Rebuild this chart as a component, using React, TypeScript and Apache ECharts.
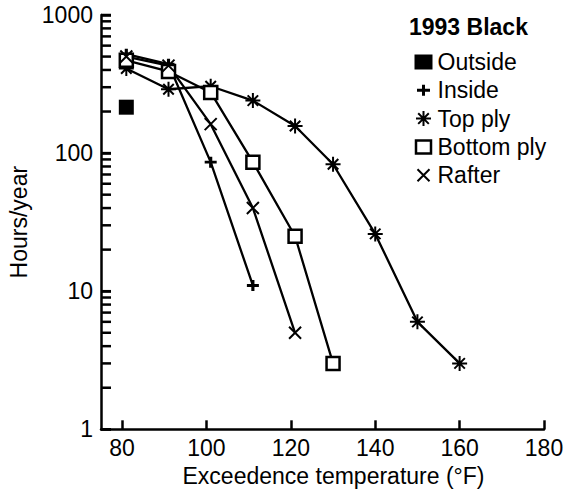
import React, { useEffect, useRef } from "react";
import * as echarts from "echarts";

// ---- data ----
const outsideTemps = [81];
const outsideHours = [215];

const insideTemps = [81, 91, 101, 111];
const insideHours = [520, 440, 86, 11];

const topPlyTemps = [81, 91, 101, 111, 121, 130, 140, 150, 160];
const topPlyHours = [410, 290, 305, 240, 157, 83, 26, 6, 3];

const bottomPlyTemps = [81, 91, 101, 111, 121, 130];
const bottomPlyHours = [470, 390, 275, 86, 25, 3];

const rafterTemps = [81, 91, 101, 111, 121];
const rafterHours = [500, 430, 162, 40, 5];

const xTickValues = [80, 100, 120, 140, 160, 180];
const yTickValues = [
  1, 2, 3, 4, 5, 6, 7, 8, 9,
  10, 20, 30, 40, 50, 60, 70, 80, 90,
  100, 200, 300, 400, 500, 600, 700, 800, 900,
  1000,
];

const legendTitle = "1993 Black";
const seriesNames = ["Outside", "Inside", "Top ply", "Bottom ply", "Rafter"];
const xAxisTitle = "Exceedence temperature (\u00B0F)";
const yAxisTitle = "Hours/year";

const X_MIN = 75;
const X_MAX = 180;

const FONT = "'Liberation Sans', Arial, Helvetica, sans-serif";
const FS = 23;

const plusPath = "path://M0 5H10M5 0V10";
const starPath = "path://M5 0V10M0 5H10M1.5 1.5L8.5 8.5M8.5 1.5L1.5 8.5";
const crossPath = "path://M0 0L10 10M10 0L0 10";

const legendIcons = [
  "path://M0 0M0 1.5H18V16.5H0ZM18 18",
  "path://M0 0M2.5 9H15.5M9 3.5V14.5M18 18",
  "path://M0 0M9 1.5V16.5M1.5 9H16.5M3.7 3.7L14.3 14.3M14.3 3.7L3.7 14.3M18 18",
  "path://M0 0M1.5 2.5H16.5V15.5H1.5ZM18 18",
  "path://M0 0M3 3L15 15M15 3L3 15M18 18",
];

function zip(xs: number[], ys: number[]) {
  return xs.map((x, i) => [x, ys[i]]);
}

export default function App() {
  const ref = useRef<HTMLDivElement>(null);

  useEffect(() => {
    if (!ref.current) return;
    const chart = echarts.init(ref.current, undefined, { renderer: "svg" });

    const lineBase = {
      type: "line" as const,
      lineStyle: { color: "#000", width: 2.3 },
      emphasis: { disabled: true },
      z: 2,
    };

    const tickStyle = { color: "#000", width: 2.5 };

    const option: any = {
      animation: false,
      backgroundColor: "#fff",
      textStyle: { fontFamily: FONT },
      grid: {
        left: 101,
        right: 22,
        top: 15,
        bottom: 66.7,
        containLabel: false,
        outerBoundsMode: "none",
      },
      xAxis: {
        type: "value",
        min: X_MIN,
        max: X_MAX,
        name: xAxisTitle,
        nameLocation: "middle",
        nameGap: 34,
        nameTextStyle: {
          color: "#000",
          fontSize: FS,
          fontFamily: FONT,
          padding: [0, 0, 0, 22],
        },
        axisLine: { show: true, lineStyle: { color: "#000", width: 2.5 } },
        axisTick: {
          show: true,
          inside: true,
          length: 9,
          lineStyle: tickStyle,
          customValues: xTickValues,
        },
        axisLabel: {
          color: "#000",
          fontSize: FS,
          fontFamily: FONT,
          margin: 7,
          customValues: xTickValues,
        },
        splitLine: { show: false },
      },
      yAxis: {
        type: "log",
        logBase: 10,
        min: 1,
        max: 1000,
        position: "left",
        name: yAxisTitle,
        nameLocation: "middle",
        nameGap: 62,
        nameTextStyle: { color: "#000", fontSize: FS, fontFamily: FONT },
        axisLine: { show: true, lineStyle: { color: "#000", width: 2.5 } },
        axisTick: {
          show: true,
          inside: true,
          length: 10,
          lineStyle: tickStyle,
        },
        axisLabel: {
          color: "#000",
          fontSize: FS,
          fontFamily: FONT,
          margin: 8,
          formatter: (v: number) => String(Math.round(v)),
        },
        splitLine: { show: false },
        minorTick: { show: false },
      },
      legend: {
        orient: "vertical",
        left: 413,
        top: 50.5,
        itemWidth: 18,
        itemHeight: 18,
        itemGap: 5.3,
        selectedMode: false,
        padding: 0,
        textStyle: {
          color: "#000",
          fontSize: FS,
          fontFamily: FONT,
        },
        data: [
          {
            name: seriesNames[0],
            icon: legendIcons[0],
            itemStyle: { color: "#000", borderWidth: 0, opacity: 1 },
          },
          {
            name: seriesNames[1],
            icon: legendIcons[1],
            itemStyle: { color: "#000", borderColor: "#000", borderWidth: 3, opacity: 1 },
          },
          {
            name: seriesNames[2],
            icon: legendIcons[2],
            itemStyle: { color: "#000", borderColor: "#000", borderWidth: 2, opacity: 1 },
          },
          {
            name: seriesNames[3],
            icon: legendIcons[3],
            itemStyle: { color: "#fff", borderColor: "#000", borderWidth: 2.5, opacity: 1 },
          },
          {
            name: seriesNames[4],
            icon: legendIcons[4],
            itemStyle: { color: "#000", borderColor: "#000", borderWidth: 2, opacity: 1 },
          },
        ],
      },
      graphic: [
        {
          type: "text",
          left: 409,
          top: 15,
          style: {
            text: legendTitle,
            font: `bold ${FS}px ${FONT}`,
            fill: "#000",
          },
        },
      ],
      series: [
        {
          name: "yTicks",
          type: "scatter",
          silent: true,
          clip: false,
          z: 4,
          data: yTickValues.map((v) => [X_MIN, v]),
          symbol: "rect",
          symbolSize: [10, 2.5],
          symbolOffset: [5, 0],
          itemStyle: { color: "#000", opacity: 1 },
          emphasis: { disabled: true },
        },
        {
          name: seriesNames[0],
          type: "scatter",
          data: zip(outsideTemps, outsideHours),
          symbol: "rect",
          symbolSize: 15,
          itemStyle: { color: "#000", opacity: 1 },
          emphasis: { disabled: true },
          z: 3,
        },
        {
          ...lineBase,
          name: seriesNames[1],
          data: zip(insideTemps, insideHours),
          symbol: plusPath,
          symbolSize: [12, 11],
          showAllSymbol: true,
          itemStyle: { color: "#000", borderColor: "#000", borderWidth: 3 },
        },
        {
          ...lineBase,
          name: seriesNames[2],
          data: zip(topPlyTemps, topPlyHours),
          symbol: starPath,
          symbolSize: 15,
          showAllSymbol: true,
          itemStyle: { color: "#000", borderColor: "#000", borderWidth: 2 },
        },
        {
          ...lineBase,
          name: seriesNames[3],
          data: zip(bottomPlyTemps, bottomPlyHours),
          symbol: "rect",
          symbolSize: 13,
          showAllSymbol: true,
          itemStyle: { color: "#fff", borderColor: "#000", borderWidth: 2.5 },
        },
        {
          ...lineBase,
          name: seriesNames[4],
          data: zip(rafterTemps, rafterHours),
          symbol: crossPath,
          symbolSize: 12,
          showAllSymbol: true,
          itemStyle: { color: "#000", borderColor: "#000", borderWidth: 2 },
        },
      ],
    };

    chart.setOption(option);
    return () => chart.dispose();
  }, []);

  return (
    <div
      ref={ref}
      style={{ position: "absolute", left: 0, top: 0, width: 566, height: 496 }}
    />
  );
}
